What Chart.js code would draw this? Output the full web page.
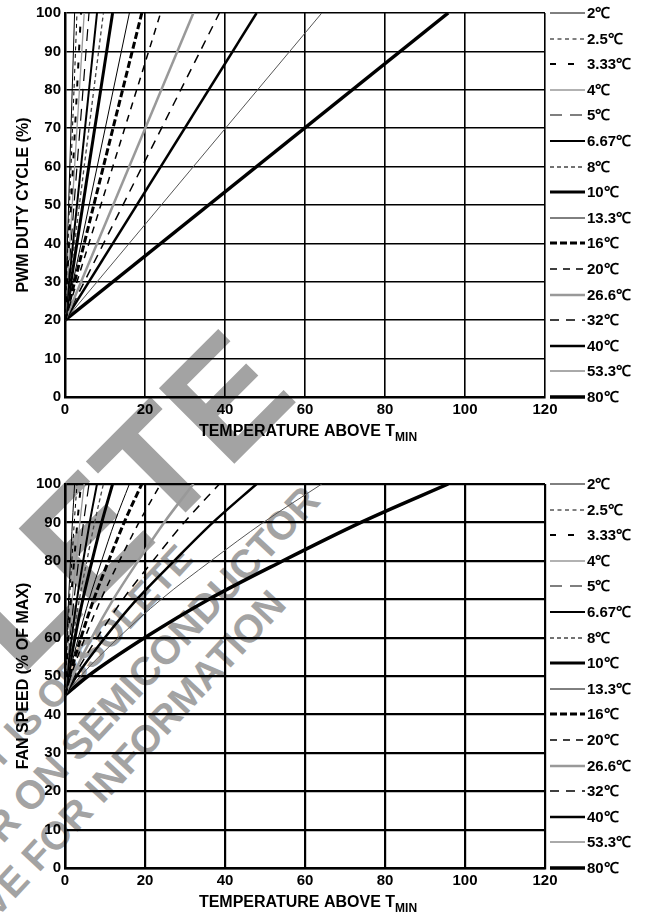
<!DOCTYPE html>
<html>
<head>
<meta charset="utf-8">
<script src="https://cdn.jsdelivr.net/npm/chart.js@4.4.1/dist/chart.umd.min.js"></script>
<style>
html, body { margin: 0; padding: 0; background: #fff; }
#page { position: relative; width: 648px; height: 915px; overflow: hidden; }
#mark { position: absolute; left: 0; top: 0; }
#mark text { font-family: "Liberation Sans", Arial, sans-serif; font-weight: bold; fill: #a3a3a3; }
canvas { position: absolute; left: 0; }
#pwmChart { top: 0; }
#fanChart { top: 457px; }
</style>
</head>
<body>
<div id="page">
  <svg id="mark" width="648" height="915">
    <text x="300" y="398" font-size="155" text-anchor="end" transform="rotate(-45 300 398)">OBSOLETE</text>
    <text x="195" y="560" font-size="38" text-anchor="end" transform="rotate(-47 195 560)">THIS PART IS OBSOLETE</text>
    <text x="322" y="502" font-size="40" text-anchor="end" transform="rotate(-47 322 502)">CONTACT YOUR ON SEMICONDUCTOR</text>
    <text x="288" y="606" font-size="39" text-anchor="end" transform="rotate(-47 288 606)">REPRESENTATIVE FOR INFORMATION</text>
  </svg>
  <canvas id="pwmChart" width="648" height="457"></canvas>
  <canvas id="fanChart" width="648" height="458"></canvas>
</div>
<script>
// Temperature range settings (one curve each)
const rangeLabels = ['2℃', '2.5℃', '3.33℃', '4℃', '5℃', '6.67℃', '8℃', '10℃', '13.3℃', '16℃', '20℃', '26.6℃', '32℃', '40℃', '53.3℃', '80℃'];

// PWM duty cycle: straight lines from 20% at 0 to 100% at these temperatures
const pwmStartY = 20;
const pwmEndY = 100;
const pwmEndX = [2.4, 3.0, 4.0, 4.8, 6.0, 8.0, 9.6, 11.9, 16.1, 19.2, 23.9, 32.1, 38.6, 47.9, 64.2, 95.8];

// Fan speed: temperature at which each curve crosses these levels
const fanLevels = [45, 50, 60, 70, 80, 90, 100];
const fanX = [
    [0, 0.15, 0.5, 0.9, 1.37, 1.85, 2.4],
    [0, 0.18, 0.63, 1.13, 1.71, 2.32, 3.0],
    [0, 0.24, 0.84, 1.5, 2.28, 3.09, 4.0],
    [0, 0.29, 1.0, 1.8, 2.73, 3.71, 4.8],
    [0, 0.37, 1.25, 2.26, 3.41, 4.63, 6.0],
    [0, 0.49, 1.67, 3.0, 4.55, 6.18, 8.0],
    [0, 0.59, 2.0, 3.61, 5.46, 7.41, 9.6],
    [0, 0.73, 2.49, 4.47, 6.77, 9.19, 11.9],
    [0, 0.98, 3.36, 6.05, 9.16, 12.4, 16.1],
    [0, 1.17, 4.0, 7.2, 10.9, 14.8, 19.2],
    [0, 1.46, 5.0, 9.0, 13.6, 18.5, 23.9],
    [0, 1.96, 6.7, 12.1, 18.3, 24.8, 32.1],
    [0, 2.35, 8.07, 14.5, 22.0, 29.8, 38.6],
    [0, 2.92, 10.0, 18.0, 27.3, 37.0, 47.9],
    [0, 3.92, 13.4, 24.1, 36.5, 49.6, 64.2],
    [0, 5.8, 20.0, 36.0, 54.5, 74.0, 95.8]
];

// axis ranges
const xMin = 0, xMax = 120, xStep = 20;
const yMin = 0, yMax = 100, yStep = 10;

// line look per range
const lineStyles = [
    { color: '#000', width: 1, dash: [] },
    { color: '#000', width: 1, dash: [4, 3.5] },
    { color: '#000', width: 2, dash: [6, 12] },
    { color: '#999', width: 1.3, dash: [] },
    { color: '#000', width: 1.2, dash: [12, 8] },
    { color: '#000', width: 2, dash: [] },
    { color: '#444', width: 1.3, dash: [4, 3] },
    { color: '#000', width: 3, dash: [] },
    { color: '#000', width: 1, dash: [] },
    { color: '#000', width: 3, dash: [7, 3] },
    { color: '#000', width: 1.5, dash: [7, 6] },
    { color: '#999', width: 2.5, dash: [] },
    { color: '#000', width: 1.5, dash: [9, 7] },
    { color: '#000', width: 2.5, dash: [] },
    { color: '#555', width: 1, dash: [] },
    { color: '#000', width: 3.5, dash: [] }
];

const FONT = '"Liberation Sans", Arial, Helvetica, sans-serif';

// legend at the right of the plot, rows spread over the plot height
const sideLegend = {
    id: 'sideLegend',
    afterDraw(chart) {
        const ctx = chart.ctx;
        const area = chart.chartArea;
        const rowH = (area.bottom - area.top) / (rangeLabels.length - 1);
        ctx.save();
        rangeLabels.forEach((label, i) => {
            const st = lineStyles[i];
            const y = Math.round(area.top + i * rowH);
            ctx.beginPath();
            ctx.setLineDash(st.dash);
            ctx.lineWidth = st.width;
            ctx.strokeStyle = st.color;
            ctx.moveTo(area.right + 5, y);
            ctx.lineTo(area.right + 40, y);
            ctx.stroke();
            ctx.setLineDash([]);
            ctx.fillStyle = '#000';
            ctx.font = 'bold 15px ' + FONT;
            ctx.textBaseline = 'middle';
            ctx.textAlign = 'left';
            ctx.fillText(label, area.right + 42, y + 1);
        });
        ctx.restore();
    }
};

// axis titles (x title has a subscript)
const axisTitles = {
    id: 'axisTitles',
    afterDraw(chart, args, opts) {
        const ctx = chart.ctx;
        const area = chart.chartArea;
        ctx.save();
        ctx.fillStyle = '#000';
        ctx.textBaseline = 'alphabetic';
        ctx.textAlign = 'left';
        const main = 'TEMPERATURE ABOVE T';
        const sub = 'MIN';
        ctx.font = 'bold 16px ' + FONT;
        const w1 = ctx.measureText(main).width;
        ctx.font = 'bold 12px ' + FONT;
        const w2 = ctx.measureText(sub).width;
        const x = (area.left + area.right) / 2 - (w1 + w2) / 2 + 3;
        const yb = area.bottom + 39;
        ctx.font = 'bold 16px ' + FONT;
        ctx.fillText(main, x, yb);
        ctx.font = 'bold 12px ' + FONT;
        ctx.fillText(sub, x + w1, yb + 5);

        ctx.translate(28, (area.top + area.bottom) / 2);
        ctx.rotate(-Math.PI / 2);
        ctx.textAlign = 'center';
        ctx.font = 'bold 16px ' + FONT;
        ctx.fillText(opts.yText, 0, 0);
        ctx.restore();
    }
};

function buildChart(canvasId, datasets, yText, padTop, axisHeight, gridWidth, curved) {
    return new Chart(document.getElementById(canvasId).getContext('2d'), {
        type: 'line',
        data: { datasets: datasets },
        options: {
            responsive: false,
            animation: false,
            events: [],
            layout: { padding: { top: padTop, right: 103, left: 0, bottom: 0 } },
            elements: {
                point: { radius: 0 },
                line: { tension: 0, cubicInterpolationMode: curved ? 'monotone' : 'default' }
            },
            scales: {
                x: {
                    type: 'linear',
                    min: xMin,
                    max: xMax,
                    ticks: { stepSize: xStep, color: '#000', padding: 4, font: { family: FONT, size: 15, weight: 'bold' } },
                    grid: { color: '#000', lineWidth: gridWidth, drawTicks: false },
                    border: { color: '#000', width: 2.5 },
                    afterFit: s => { s.height = axisHeight; }
                },
                y: {
                    min: yMin,
                    max: yMax,
                    ticks: { stepSize: yStep, color: '#000', padding: 4, font: { family: FONT, size: 15, weight: 'bold' } },
                    grid: { color: '#000', lineWidth: gridWidth, drawTicks: false },
                    border: { color: '#000', width: 2.5 },
                    afterFit: s => { s.width = 65; }
                }
            },
            plugins: {
                legend: { display: false },
                tooltip: { enabled: false },
                axisTitles: { yText: yText }
            }
        },
        plugins: [sideLegend, axisTitles]
    });
}

function styleFor(i) {
    const st = lineStyles[i];
    return {
        label: rangeLabels[i],
        borderColor: st.color,
        borderWidth: st.width,
        borderDash: st.dash,
        borderCapStyle: 'butt',
        fill: false
    };
}

const pwmSets = rangeLabels.map((_, i) => Object.assign(styleFor(i), {
    data: [{ x: 0, y: pwmStartY }, { x: pwmEndX[i], y: pwmEndY }]
}));

const fanSets = rangeLabels.map((_, i) => Object.assign(styleFor(i), {
    data: fanLevels.map((lvl, k) => ({ x: fanX[i][k], y: lvl }))
}));

buildChart('pwmChart', pwmSets, 'PWM DUTY CYCLE (%)', 12, 60, 1.6, false);
buildChart('fanChart', fanSets, 'FAN SPEED (% OF MAX)', 27, 47, 2.2, true);
</script>
</body>
</html>
